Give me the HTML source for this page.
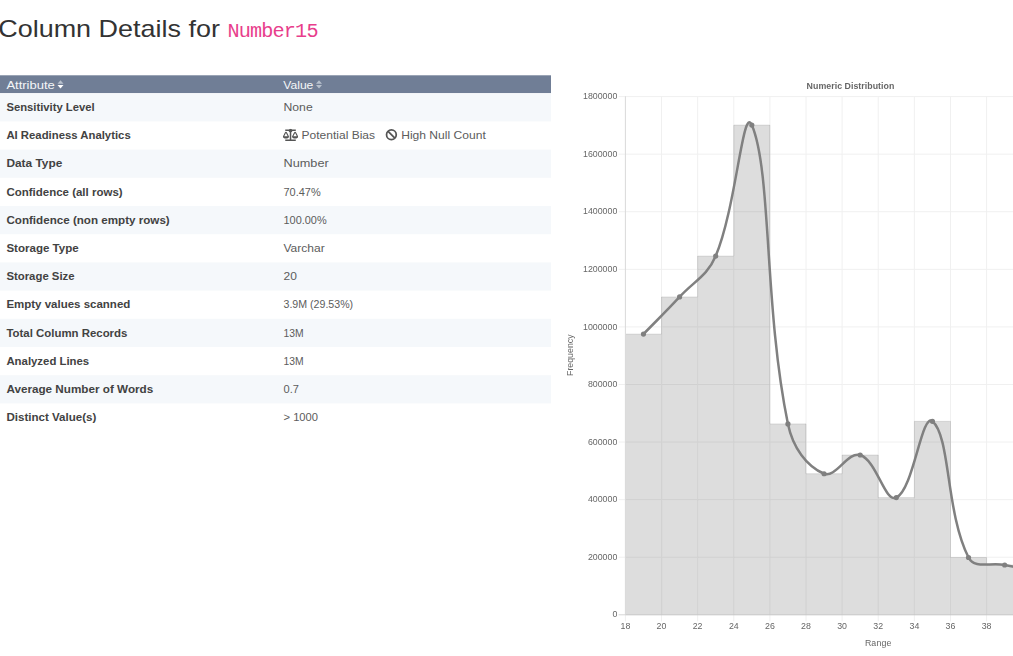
<!DOCTYPE html>
<html><head><meta charset="utf-8"><title>Column Details for Number15</title>
<style>
html,body{margin:0;padding:0;background:#fff;width:1013px;height:656px;overflow:hidden;}
svg{position:absolute;left:0;top:0;display:block;}
.S{font-family:"Liberation Sans",sans-serif;}
.M{font-family:"Liberation Mono",monospace;}
</style></head>
<body>
<svg width="1013" height="656" viewBox="0 0 1013 656">
<defs>
<filter id="bl" x="-5%" y="-5%" width="110%" height="110%"><feGaussianBlur stdDeviation="0.45"/></filter>
<filter id="blt" x="-5%" y="-5%" width="110%" height="110%"><feGaussianBlur stdDeviation="0.38"/></filter>
</defs>
<g><rect x="0" y="75.3" width="551" height="17.9" fill="#707e96"/><rect x="0" y="93.2" width="551" height="28.2" fill="#f5f8fb"/><rect x="0" y="149.6" width="551" height="28.2" fill="#f5f8fb"/><rect x="0" y="206.0" width="551" height="28.2" fill="#f5f8fb"/><rect x="0" y="262.4" width="551" height="28.2" fill="#f5f8fb"/><rect x="0" y="318.8" width="551" height="28.2" fill="#f5f8fb"/><rect x="0" y="375.2" width="551" height="28.2" fill="#f5f8fb"/></g>
<g filter="url(#bl)">
<path d="M618.6 557.22H1013M618.6 499.64H1013M618.6 442.06H1013M618.6 384.48H1013M618.6 326.90H1013M618.6 269.32H1013M618.6 211.74H1013M618.6 154.16H1013M618.6 96.58H1013M661.52 96.3V621.4M697.64 96.3V621.4M733.76 96.3V621.4M769.88 96.3V621.4M806.00 96.3V621.4M842.12 96.3V621.4M878.24 96.3V621.4M914.36 96.3V621.4M950.48 96.3V621.4M986.60 96.3V621.4M1022.72 96.3V621.4" stroke="#f0f0f0" stroke-width="1" fill="none"/>
<g fill="rgba(0,0,0,0.133)"><rect x="625.40" y="334.10" width="36.12" height="280.70"/><rect x="661.52" y="296.96" width="36.12" height="317.84"/><rect x="697.64" y="256.08" width="36.12" height="358.72"/><rect x="733.76" y="125.08" width="36.12" height="489.72"/><rect x="769.88" y="423.92" width="36.12" height="190.88"/><rect x="806.00" y="473.73" width="36.12" height="141.07"/><rect x="842.12" y="455.02" width="36.12" height="159.78"/><rect x="878.24" y="497.62" width="36.12" height="117.18"/><rect x="914.36" y="421.33" width="36.12" height="193.47"/><rect x="950.48" y="557.51" width="36.12" height="57.29"/><rect x="986.60" y="564.99" width="36.12" height="49.81"/><rect x="1022.72" y="571.62" width="36.12" height="43.18"/><rect x="1058.84" y="577.37" width="36.12" height="37.43"/><rect x="1094.96" y="583.13" width="36.12" height="31.67"/></g>
<path d="M625.40 334.10H661.52M661.52 296.96V334.10M661.52 296.96H697.64M697.64 256.08V296.96M697.64 256.08H733.76M733.76 125.08V256.08M733.76 125.08H769.88M769.88 125.08V423.92M769.88 423.92H806.00M806.00 423.92V473.73M806.00 473.73H842.12M842.12 455.02V473.73M842.12 455.02H878.24M878.24 455.02V497.62M878.24 497.62H914.36M914.36 421.33V497.62M914.36 421.33H950.48M950.48 421.33V557.51M950.48 557.51H986.60M986.60 557.51V564.99M986.60 564.99H1022.72M1022.72 564.99V571.62M1022.72 571.62H1058.84M1058.84 571.62V577.37M1058.84 577.37H1094.96M1094.96 577.37V583.13M1094.96 583.13H1131.08" stroke="rgba(0,0,0,0.11)" stroke-width="1" fill="none"/>
<path d="M625.40 96.3V614.80" stroke="#d9d9d9" stroke-width="1" fill="none"/>
<path d="M625.40 614.80V621.4" stroke="#f0f0f0" stroke-width="1" fill="none"/>
<path d="M618.6 614.80H625.40" stroke="#d6d6d6" stroke-width="1" fill="none"/>
<path d="M625.40 614.80H1013" stroke="#c6c6c6" stroke-width="1" fill="none"/>
<path d="M643.46 334.10 C657.91 319.24 665.50 312.16 679.58 296.96 C694.40 280.95 707.42 275.77 715.70 256.08 C736.32 207.02 742.83 104.20 751.82 125.08 C771.73 171.34 763.95 308.13 787.94 423.92 C792.84 447.59 806.67 466.24 824.06 473.73 C835.56 478.68 848.00 450.99 860.18 455.02 C876.90 460.55 884.79 502.99 896.30 497.62 C913.69 489.52 921.59 412.36 932.42 421.33 C950.49 436.31 945.64 511.97 968.54 557.51 C974.54 569.43 990.18 562.17 1004.66 564.99 C1019.08 567.81 1026.30 569.13 1040.78 571.62 C1055.20 574.09 1062.45 575.07 1076.90 577.37 C1091.35 579.68 1098.57 580.83 1113.02 583.13" fill="none" stroke="#808080" stroke-width="2.5"/>
<g fill="#808080"><circle cx="643.46" cy="334.10" r="2.6"/><circle cx="679.58" cy="296.96" r="2.6"/><circle cx="715.70" cy="256.08" r="2.6"/><circle cx="751.82" cy="125.08" r="2.6"/><circle cx="787.94" cy="423.92" r="2.6"/><circle cx="824.06" cy="473.73" r="2.6"/><circle cx="860.18" cy="455.02" r="2.6"/><circle cx="896.30" cy="497.62" r="2.6"/><circle cx="932.42" cy="421.33" r="2.6"/><circle cx="968.54" cy="557.51" r="2.6"/><circle cx="1004.66" cy="564.99" r="2.6"/><circle cx="1040.78" cy="571.62" r="2.6"/><circle cx="1076.90" cy="577.37" r="2.6"/><circle cx="1113.02" cy="583.13" r="2.6"/></g>
</g>
<g filter="url(#blt)">
<text class="S" x="850.5" y="88.6" font-size="8.8" font-weight="700" fill="#666" letter-spacing="0.04" text-anchor="middle">Numeric Distribution</text>
<text class="S" x="878.2" y="645.9" font-size="8.8" fill="#666" letter-spacing="0.14" text-anchor="middle">Range</text>
<text class="S" x="617.3" y="617.4" font-size="8.8" fill="#666" text-anchor="end">0</text>
<text class="S" x="617.3" y="559.8" font-size="8.8" fill="#666" text-anchor="end">200000</text>
<text class="S" x="617.3" y="502.2" font-size="8.8" fill="#666" text-anchor="end">400000</text>
<text class="S" x="617.3" y="444.7" font-size="8.8" fill="#666" text-anchor="end">600000</text>
<text class="S" x="617.3" y="387.1" font-size="8.8" fill="#666" text-anchor="end">800000</text>
<text class="S" x="617.3" y="329.5" font-size="8.8" fill="#666" text-anchor="end">1000000</text>
<text class="S" x="617.3" y="271.9" font-size="8.8" fill="#666" text-anchor="end">1200000</text>
<text class="S" x="617.3" y="214.3" font-size="8.8" fill="#666" text-anchor="end">1400000</text>
<text class="S" x="617.3" y="156.8" font-size="8.8" fill="#666" text-anchor="end">1600000</text>
<text class="S" x="617.3" y="99.2" font-size="8.8" fill="#666" text-anchor="end">1800000</text>
<text class="S" x="625.4" y="629.4" font-size="8.8" fill="#666" text-anchor="middle">18</text>
<text class="S" x="661.5" y="629.4" font-size="8.8" fill="#666" text-anchor="middle">20</text>
<text class="S" x="697.6" y="629.4" font-size="8.8" fill="#666" text-anchor="middle">22</text>
<text class="S" x="733.8" y="629.4" font-size="8.8" fill="#666" text-anchor="middle">24</text>
<text class="S" x="769.9" y="629.4" font-size="8.8" fill="#666" text-anchor="middle">26</text>
<text class="S" x="806.0" y="629.4" font-size="8.8" fill="#666" text-anchor="middle">28</text>
<text class="S" x="842.1" y="629.4" font-size="8.8" fill="#666" text-anchor="middle">30</text>
<text class="S" x="878.2" y="629.4" font-size="8.8" fill="#666" text-anchor="middle">32</text>
<text class="S" x="914.4" y="629.4" font-size="8.8" fill="#666" text-anchor="middle">34</text>
<text class="S" x="950.5" y="629.4" font-size="8.8" fill="#666" text-anchor="middle">36</text>
<text class="S" x="986.6" y="629.4" font-size="8.8" fill="#666" text-anchor="middle">38</text>
<text class="S" x="1022.7" y="629.4" font-size="8.8" fill="#666" text-anchor="middle">40</text>
<text class="S" transform="translate(573,355.2) rotate(-90)" text-anchor="middle" font-size="8.8" fill="#666">Frequency</text>
</g>
<svg x="282.9" y="128.7" width="15.25" height="12.2" viewBox="0 0 640 512"><path fill="#555" d="M256 336h-.02c0-16.18 1.34-8.73-85.05-181.51-17.65-35.29-68.19-35.36-85.87 0C-2.06 328.75.02 320.33.02 336H0c0 44.18 57.31 80 128 80s128-35.82 128-80zM128 176l72 144H56l72-144zm511.98 160c0-16.18 1.34-8.73-85.05-181.51-17.650-35.29-68.19-35.36-85.87 0-87.12 174.26-85.04 165.84-85.04 181.51H384c0 44.18 57.31 80 128 80s128-35.82 128-80h-.02zM440 320l72-144 72 144H440zm88 128H352V153.25c23.51-10.29 41.16-31.48 46.39-57.25H528c8.84 0 16-7.16 16-16V48c0-8.84-7.16-16-16-16H383.64C369.04 12.68 346.09 0 320 0s-49.04 12.68-63.64 32H112c-8.84 0-16 7.16-16 16v32c0 8.84 7.160 16 16 16h129.61c5.23 25.76 22.87 46.96 46.39 57.25V448H112c-8.84 0-16 7.16-16 16v32c0 8.84 7.16 16 16 16h416c8.84 0 16-7.16 16-16v-32c0-8.84-7.16-16-16-16z"/></svg>
<g fill="none" stroke="#555" stroke-width="1.75"><circle cx="391.4" cy="134.7" r="4.85"/><path d="M387.9 131.2L394.9 138.2"/></g>
<path d="M57.5 83.8L60.5 80.2L63.5 83.8Z" fill="#b7c0cc"/><path d="M57.5 85.0L60.5 88.6L63.5 85.0Z" fill="#ffffff"/>
<path d="M316.0 83.8L319.0 80.2L322.0 83.8Z" fill="#b7c0cc"/><path d="M316.0 85.0L319.0 88.6L322.0 85.0Z" fill="#b7c0cc"/>
<text class="S" x="-1.8" y="36.5" font-size="24" fill="#333" textLength="221.76" lengthAdjust="spacingAndGlyphs">Column Details for</text>
<text class="M" x="227.6" y="36.6" font-size="20.2" fill="#e83e8c" letter-spacing="-0.86">Number15</text>
<text class="S" x="6.4" y="88.6" font-size="11" fill="#f4f6f8" textLength="48.44" lengthAdjust="spacingAndGlyphs">Attribute</text>
<text class="S" x="283.3" y="88.6" font-size="11" fill="#f4f6f8" textLength="30.07" lengthAdjust="spacingAndGlyphs">Value</text>
<text class="S" x="6.4" y="111.0" font-size="11" font-weight="700" fill="#424242" textLength="88.30" lengthAdjust="spacingAndGlyphs">Sensitivity Level</text>
<text class="S" x="283.5" y="111.0" font-size="11" fill="#5c5c5c" textLength="29.18" lengthAdjust="spacingAndGlyphs">None</text>
<text class="S" x="6.4" y="139.2" font-size="11" font-weight="700" fill="#424242" textLength="124.31" lengthAdjust="spacingAndGlyphs">AI Readiness Analytics</text>
<text class="S" x="6.4" y="167.4" font-size="11" font-weight="700" fill="#424242" textLength="55.85" lengthAdjust="spacingAndGlyphs">Data Type</text>
<text class="S" x="283.5" y="167.4" font-size="11" fill="#5c5c5c" textLength="45.22" lengthAdjust="spacingAndGlyphs">Number</text>
<text class="S" x="6.4" y="195.6" font-size="11" font-weight="700" fill="#424242" textLength="116.22" lengthAdjust="spacingAndGlyphs">Confidence (all rows)</text>
<text class="S" x="283.5" y="195.6" font-size="11" fill="#5c5c5c" textLength="37.18" lengthAdjust="spacingAndGlyphs">70.47%</text>
<text class="S" x="6.4" y="223.8" font-size="11" font-weight="700" fill="#424242" textLength="163.33" lengthAdjust="spacingAndGlyphs">Confidence (non empty rows)</text>
<text class="S" x="283.5" y="223.8" font-size="11" fill="#5c5c5c" textLength="43.17" lengthAdjust="spacingAndGlyphs">100.00%</text>
<text class="S" x="6.4" y="252.0" font-size="11" font-weight="700" fill="#424242" textLength="72.32" lengthAdjust="spacingAndGlyphs">Storage Type</text>
<text class="S" x="283.5" y="252.0" font-size="11" fill="#5c5c5c" textLength="41.16" lengthAdjust="spacingAndGlyphs">Varchar</text>
<text class="S" x="6.4" y="280.2" font-size="11" font-weight="700" fill="#424242" textLength="68.21" lengthAdjust="spacingAndGlyphs">Storage Size</text>
<text class="S" x="283.5" y="280.2" font-size="11" fill="#5c5c5c" textLength="13.36" lengthAdjust="spacingAndGlyphs">20</text>
<text class="S" x="6.4" y="308.4" font-size="11" font-weight="700" fill="#424242" textLength="123.92" lengthAdjust="spacingAndGlyphs">Empty values scanned</text>
<text class="S" x="283.5" y="308.4" font-size="11" fill="#5c5c5c" textLength="69.65" lengthAdjust="spacingAndGlyphs">3.9M (29.53%)</text>
<text class="S" x="6.4" y="336.6" font-size="11" font-weight="700" fill="#424242" textLength="121.01" lengthAdjust="spacingAndGlyphs">Total Column Records</text>
<text class="S" x="283.5" y="336.6" font-size="11" fill="#5c5c5c" textLength="20.13" lengthAdjust="spacingAndGlyphs">13M</text>
<text class="S" x="6.4" y="364.8" font-size="11" font-weight="700" fill="#424242" textLength="82.81" lengthAdjust="spacingAndGlyphs">Analyzed Lines</text>
<text class="S" x="283.5" y="364.8" font-size="11" fill="#5c5c5c" textLength="20.13" lengthAdjust="spacingAndGlyphs">13M</text>
<text class="S" x="6.4" y="393.0" font-size="11" font-weight="700" fill="#424242" textLength="146.84" lengthAdjust="spacingAndGlyphs">Average Number of Words</text>
<text class="S" x="283.5" y="393.0" font-size="11" fill="#5c5c5c" textLength="15.39" lengthAdjust="spacingAndGlyphs">0.7</text>
<text class="S" x="6.4" y="421.2" font-size="11" font-weight="700" fill="#424242" textLength="89.92" lengthAdjust="spacingAndGlyphs">Distinct Value(s)</text>
<text class="S" x="283.5" y="421.2" font-size="11" fill="#5c5c5c" textLength="34.49" lengthAdjust="spacingAndGlyphs">&gt; 1000</text>
<text class="S" x="301.6" y="139.2" font-size="11" fill="#5c5c5c" textLength="73.46" lengthAdjust="spacingAndGlyphs">Potential Bias</text>
<text class="S" x="401.2" y="139.2" font-size="11" fill="#5c5c5c" textLength="84.57" lengthAdjust="spacingAndGlyphs">High Null Count</text>
</svg>
</body></html>
